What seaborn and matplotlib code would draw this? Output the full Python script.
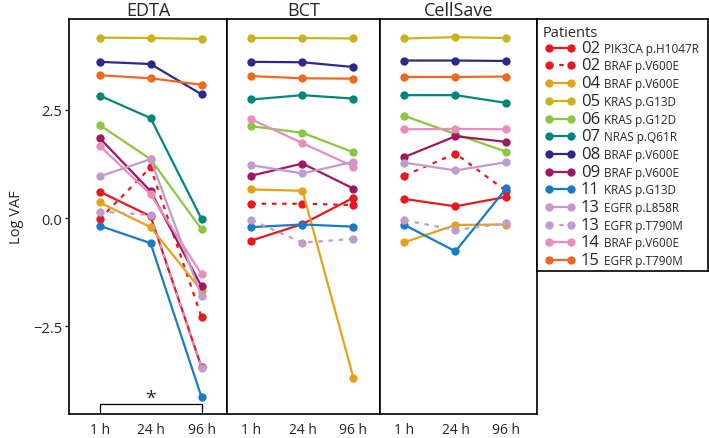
import numpy as np
import pandas as pd
import seaborn as sns
import matplotlib.pyplot as plt
from matplotlib.lines import Line2D

# --- data ---
patients = ['02 PIK3CA p.H1047R', '02 BRAF p.V600E', '04 BRAF p.V600E', '05 KRAS p.G13D',
            '06 KRAS p.G12D', '07 NRAS p.Q61R', '08 BRAF p.V600E', '09 BRAF p.V600E',
            '11 KRAS p.G13D', '13 EGFR p.L858R', '13 EGFR p.T790M', '14 BRAF p.V600E',
            '15 EGFR p.T790M']
colors = ['#E8191E', '#E8191E', '#E5A11A', '#C9B21A', '#8CC63E', '#00877A', '#2B2A8C',
          '#A0185F', '#1A7BC5', '#C29BCE', '#C29BCE', '#E88DBE', '#F0681F']
dashed = ['02 BRAF p.V600E', '13 EGFR p.T790M']
times = ['1 h', '24 h', '96 h']
tubes = ['EDTA', 'BCT', 'CellSave']

edta = [[0.61, 0.04, -3.45], [-0.03, 1.17, -2.29], [0.36, -0.21, -1.68], [4.17, 4.16, 4.14],
        [2.15, 1.36, -0.26], [2.83, 2.31, -0.02], [3.61, 3.56, 2.86], [1.85, 0.62, -1.58],
        [-0.18, -0.58, -4.14], [0.96, 1.36, -1.81], [0.15, 0.07, -3.47], [1.67, 0.55, -1.30],
        [3.30, 3.23, 3.08]]
bct = [[-0.52, -0.14, 0.47], [0.33, 0.33, 0.30], [0.66, 0.63, -3.70], [4.16, 4.16, 4.15],
       [2.12, 1.97, 1.52], [2.74, 2.84, 2.76], [3.61, 3.60, 3.49], [0.98, 1.26, 0.68],
       [-0.21, -0.15, -0.20], [1.22, 1.03, 1.30], [-0.05, -0.57, -0.48], [2.28, 1.73, 1.19],
       [3.28, 3.23, 3.22]]
cellsave = [[0.44, 0.27, 0.49], [0.98, 1.49, 0.62], [-0.56, -0.16, -0.15], [4.15, 4.18, 4.16],
            [2.36, 1.94, 1.53], [2.84, 2.84, 2.66], [3.64, 3.64, 3.63], [1.41, 1.89, 1.76],
            [-0.16, -0.77, 0.69], [1.28, 1.10, 1.29], [-0.05, -0.28, -0.12], [2.05, 2.06, 2.05],
            [3.26, 3.26, 3.27]]

rows = []
for tube, vals in zip(tubes, [edta, bct, cellsave]):
    for p, v in zip(patients, vals):
        for i, t in enumerate(times):
            rows.append({'tube': tube, 'patient': p, 'time': i, 'vaf': v[i]})
df = pd.DataFrame(rows)

sns.set_style('white')
plt.rcParams['font.family'] = ['Open Sans', 'DejaVu Sans']

palette = dict(zip(patients, colors))
dash_map = {p: ((2, 2.6) if p in dashed else '') for p in patients}
marker_map = {p: 'o' for p in patients}

W, H = 709, 439
fig = plt.figure(figsize=(W / 100, H / 100), dpi=100)

# panel borders in pixels (left, right) and x-limits
panel_px = [(69, 227), (227, 380), (380, 537)]
panel_xlim = [(-0.6, 2.5), (-0.48, 2.52), (-0.48, 2.6)]
top, bottom = 20, 415

axes = []
for k, tube in enumerate(tubes):
    l, r = panel_px[k]
    ax = fig.add_axes([l / W, 1 - bottom / H, (r - l) / W, (bottom - top) / H])
    sub = df[df['tube'] == tube]
    sns.lineplot(data=sub, x='time', y='vaf', hue='patient', style='patient',
                 hue_order=patients, style_order=patients, palette=palette,
                 dashes=dash_map, markers=marker_map, linewidth=1.6, markersize=6,
                 markeredgewidth=0, legend=False, ax=ax, sort=False, estimator=None)
    ax.set_xlim(*panel_xlim[k])
    ax.set_ylim(-4.53, 4.6)
    ax.set_xticks(range(3))
    ax.set_xticklabels(times, fontsize=10)
    ax.tick_params(axis='x', length=0, pad=6)
    ax.set_xlabel('')
    ax.set_title(tube, fontsize=13, pad=3)
    for s in ax.spines.values():
        s.set_color('black')
        s.set_linewidth(1.2)
    if k == 0:
        ax.set_yticks([-2.5, 0.0, 2.5])
        ax.set_yticklabels(['\u22122.5', '0.0', '2.5'], fontsize=10.5)
        ax.tick_params(axis='y', left=True, length=3, width=1, pad=2)
        ax.set_ylabel('Log VAF', fontsize=10.5, labelpad=6)
    else:
        ax.set_yticks([])
        ax.set_ylabel('')
    axes.append(ax)

# significance bracket in EDTA panel
ax = axes[0]
ax.plot([0, 0, 2, 2], [-4.48, -4.31, -4.31, -4.48], color='black', lw=0.9)
ax.text(1, -4.16, '*', ha='center', va='center', fontsize=14)

# legend box
lx0, lx1, ly0, ly1 = 537, 708, 20, 272
lax = fig.add_axes([lx0 / W, 1 - ly1 / H, (lx1 - lx0) / W, (ly1 - ly0) / H])
lax.set_xlim(lx0, lx1)
lax.set_ylim(ly1, ly0)
lax.set_xticks([])
lax.set_yticks([])
for s in lax.spines.values():
    s.set_color('black')
    s.set_linewidth(1.2)
lax.text(543, 33, 'Patients', fontsize=10.5, va='center', ha='left')
for i, p in enumerate(patients):
    y = 48.7 + i * 17.7
    ls = (0, (2, 2.6)) if p in dashed else '-'
    lax.add_line(Line2D([549, 571], [y, y], color=colors[i], lw=1.6, ls=ls,
                        marker='o', markersize=6, markeredgewidth=0))
    num, gene = p.split(' ', 1)
    lax.text(581, y, num, fontsize=12, va='center', ha='left')
    lax.text(604, y + 0.5, gene, fontsize=8.5, va='center', ha='left')

fig.savefig('out.png', dpi=100)
